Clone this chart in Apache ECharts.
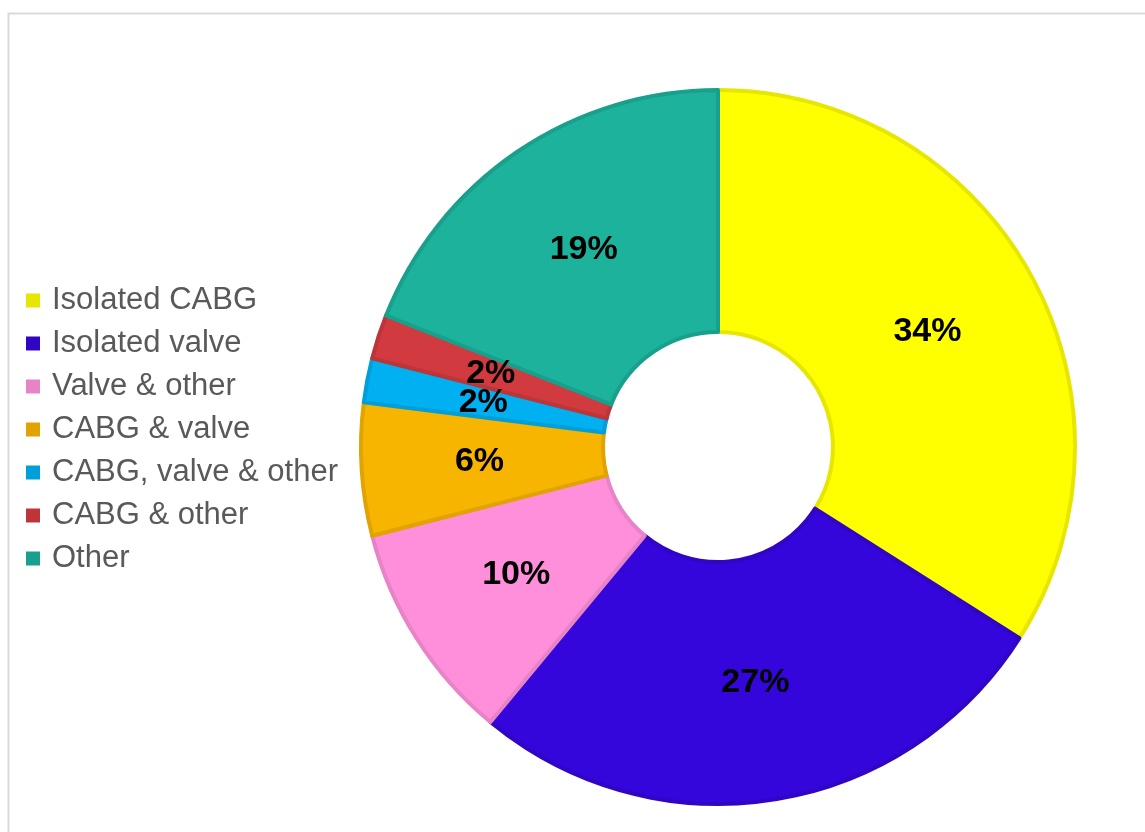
<!DOCTYPE html>
<html>
<head>
<meta charset="utf-8">
<script src="https://cdn.jsdelivr.net/npm/echarts@6/dist/echarts.min.js"></script>
<style>
  html, body { margin: 0; padding: 0; background: #ffffff; }
  #chart { width: 1145px; height: 832px; }
</style>
</head>
<body>
<div id="chart"></div>
<script>
// Procedure types and their share of cases (%)
const categories = ['Isolated CABG', 'Isolated valve', 'Valve & other', 'CABG & valve', 'CABG, valve & other', 'CABG & other', 'Other'];
const shares = [34, 27, 10, 6, 2, 2, 19];
const fillColors = ['#ffff00', '#3506dc', '#ff8fdb', '#f8b500', '#00b0f0', '#d13a3e', '#1cb29c'];
const edgeColors = ['#e6e600', '#3005c4', '#e883c8', '#e0a300', '#009fd9', '#bd3538', '#19a08c'];

const chart = echarts.init(document.getElementById('chart'), null, { renderer: 'canvas' });

const pieData = categories.map((name, i) => ({
  name: name,
  value: shares[i],
  itemStyle: { color: fillColors[i], borderColor: edgeColors[i], borderWidth: 4 }
}));

const legendData = categories.map((name, i) => ({
  name: name,
  itemStyle: { color: edgeColors[i], borderWidth: 0 }
}));

chart.setOption({
  animation: false,
  backgroundColor: '#ffffff',
  graphic: [{
    type: 'rect',
    z: -10,
    shape: { x: 8.5, y: 13.5, width: 1200, height: 900 },
    style: { fill: 'none', stroke: '#dadada', lineWidth: 2 }
  }],
  legend: {
    orient: 'vertical',
    left: 21,
    top: 280,
    icon: 'rect',
    itemWidth: 14,
    itemHeight: 14,
    itemGap: 12,
    data: legendData,
    textStyle: {
      fontFamily: '"Liberation Sans", Arial, sans-serif',
      fontSize: 31,
      lineHeight: 31,
      color: '#595959',
      padding: [0, 0, 0, 7]
    }
  },
  series: [{
    type: 'pie',
    center: [718, 447],
    radius: [115, 357],
    startAngle: 90,
    clockwise: true,
    avoidLabelOverlap: false,
    minShowLabelAngle: 0,
    labelLayout: { hideOverlap: false },
    label: {
      show: true,
      position: 'inside',
      formatter: '{c}%',
      fontFamily: '"Liberation Sans", Arial, sans-serif',
      fontWeight: 'bold',
      fontSize: 34,
      color: '#000000'
    },
    labelLine: { show: false },
    emphasis: { disabled: true },
    data: pieData
  }]
});
</script>
</body>
</html>
